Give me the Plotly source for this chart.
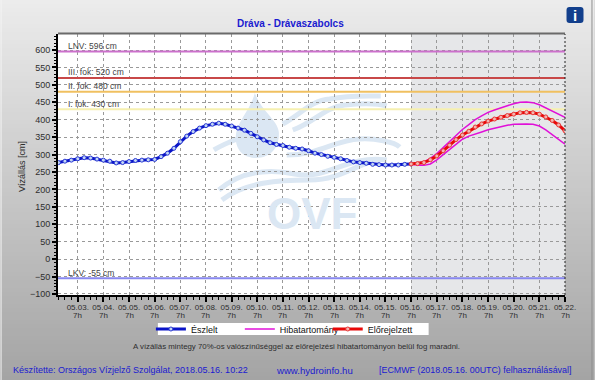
import plotly.graph_objects as go

W, H = 595, 380
L, R, T, B = 58, 565.5, 34, 295

tick_dates = ["05.%02d." % d for d in range(3, 23)]
tick_days = list(range(0, 20))
hour_label = "7h"

observed = [279, 277, 281, 284, 288, 291, 290, 287, 284, 281, 276, 277, 280, 283, 284,
            285, 286, 294, 304, 318, 337, 353, 366, 376, 383, 387, 390, 387, 382, 376,
            370, 361, 351, 342, 334, 329, 326, 321, 318, 316, 311, 304, 300, 295, 292,
            288, 283, 279, 277, 275, 272, 271, 270, 270, 270, 272, 273]
forecast = [273, 274, 277, 285, 296, 311, 327, 343, 356, 367, 379, 388, 396, 402, 407,
            412, 416, 420, 421, 420, 416, 408, 398, 385, 368]
upper = [273, 275, 279, 289, 303, 320, 338, 355, 372, 386, 400, 411, 421, 428, 435,
         440, 446, 450, 451, 449, 443, 434, 425, 416, 407]
lower = [273, 269, 269, 273, 285, 300, 315, 330, 344, 353, 360, 365, 371, 376, 380,
         384, 387, 388, 388, 387, 382, 371, 358, 345, 330]

thresholds = [("LNV: 596 cm", 596, "#cc70cc"), ("III. fok: 520 cm", 520, "#c84848"),
              ("II. fok: 480 cm", 480, "#f0c060"), ("I. fok: 430 cm", 430, "#f6f0b0"),
              ("LKV: -55 cm", -55, "#8888f0")]

X_MIN, X_MAX = -0.77, 19
Y_MIN, Y_MAX = -103, 646
x_obs = [13 - 0.25 * (len(observed) - 1 - i) for i in range(len(observed))]
x_fc = [13 + 0.25 * i for i in range(len(forecast))]

def px(x):
    return (x - L) / (R - L)
def py(y):
    return (B - y) / (B - T)
def path(points):
    s = "M%.4f,%.4f" % (px(points[0][0]), py(points[0][1]))
    for i in range(1, len(points) - 2, 3):
        s += " C" + " ".join("%.4f,%.4f" % (px(a), py(b)) for a, b in points[i:i + 3])
    return s

shapes = []
# window gradient
for y in range(0, H, 4):
    t = y / H
    c = int(236 - t * 72)
    shapes.append(dict(type="rect", xref="paper", yref="paper", x0=px(0), x1=px(W), y0=py(y + 4), y1=py(y),
                       fillcolor="rgb(%d,%d,%d)" % (c, c, c), line_width=0, layer="below"))
shapes.append(dict(type="rect", xref="paper", yref="paper", x0=px(L), x1=px(R), y0=py(B), y1=py(T),
                   fillcolor="white", line_width=0, layer="below"))
# window edges
shapes.append(dict(type="line", xref="paper", yref="paper", x0=px(592.5), x1=px(592.5), y0=py(H), y1=py(0),
                   line=dict(color="#8f8f8f", width=1), layer="below"))
shapes.append(dict(type="line", xref="paper", yref="paper", x0=px(1), x1=px(1), y0=py(H), y1=py(0),
                   line=dict(color="#f4f4f4", width=1), layer="below"))
# forecast zone
shapes.append(dict(type="rect", xref="x", yref="paper", x0=13, x1=19, y0=0, y1=1,
                   fillcolor="#e6e7e9", line_width=0, layer="below"))
# watermark
WM = "#dbe7f3"
drop = ("M%.4f,%.4f C%.4f,%.4f %.4f,%.4f %.4f,%.4f C%.4f,%.4f %.4f,%.4f %.4f,%.4f "
        "C%.4f,%.4f %.4f,%.4f %.4f,%.4f Z") % (
    px(255), py(93), px(250), py(112), px(236), py(122), px(236), py(138),
    px(236), py(152), px(246), py(158), px(256), py(158),
    px(272), py(158), px(280), py(146), px(279), py(132))
drop = drop.replace(" Z", " C%.4f,%.4f %.4f,%.4f %.4f,%.4f Z" % (px(278), py(120), px(262), py(112), px(255), py(93)))
shapes.append(dict(type="path", xref="paper", yref="paper", path=drop, fillcolor=WM, line_width=0, layer="below"))
waves = [
    [(283, 124), (300, 115), (312, 100), (330, 99), (350, 95), (365, 96), (381, 96)],
    [(293, 130), (315, 122), (325, 107), (345, 105), (365, 103), (380, 104), (387, 106)],
    [(214, 150), (222, 145), (232, 141), (240, 138), (245, 136), (250, 134), (255, 132)],
    [(287, 155), (320, 155), (335, 140), (360, 139), (375, 138), (395, 142), (400, 147)],
    [(219, 190), (240, 172), (265, 168), (295, 174), (330, 180), (345, 155), (387, 160)],
    [(222, 200), (245, 182), (280, 180), (310, 180), (340, 180), (355, 165), (372, 162)],
]
for w in waves:
    shapes.append(dict(type="path", xref="paper", yref="paper", path=path(w),
                       line=dict(color=WM, width=5), layer="below"))
# top border and dashed right border
shapes.append(dict(type="line", xref="paper", yref="paper", x0=px(L), x1=px(R), y0=py(33.5), y1=py(33.5),
                   line=dict(color="#6a6a6a", width=2), layer="above"))
shapes.append(dict(type="line", xref="paper", yref="paper", x0=1, x1=1, y0=0, y1=1,
                   line=dict(color="#222222", width=1, dash="2px,2px"), layer="above"))
# legend box
shapes.append(dict(type="rect", xref="paper", yref="paper", x0=px(158), x1=px(429), y0=py(335), y1=py(323),
                   fillcolor="white", line_width=0, layer="below"))
# info icon
shapes.append(dict(type="path", xref="paper", yref="paper", fillcolor="#123f8c", line_width=0, layer="above",
                   path="M%.4f,%.4f L%.4f,%.4f Q%.4f,%.4f %.4f,%.4f L%.4f,%.4f Q%.4f,%.4f %.4f,%.4f "
                        "L%.4f,%.4f Q%.4f,%.4f %.4f,%.4f L%.4f,%.4f Q%.4f,%.4f %.4f,%.4f Z" % (
                       px(570), py(7), px(581), py(7), px(584), py(7), px(584), py(10),
                       px(584), py(20), px(584), py(23), px(581), py(23),
                       px(570), py(23), px(567), py(23), px(567), py(20),
                       px(567), py(10), px(567), py(7), px(570), py(7))))

fig = go.Figure()
for name, val, col in thresholds:
    fig.add_trace(go.Scatter(x=[X_MIN, X_MAX], y=[val, val], mode="lines", line=dict(color=col, width=2),
                             showlegend=False, hoverinfo="skip"))
fig.add_trace(go.Scatter(x=x_obs, y=observed, mode="lines+markers", name="Észlelt", legend="legend",
                         line=dict(color="#0a14c8", width=3),
                         marker=dict(symbol="circle", size=4, color="#c3d6f5", line=dict(color="#2a3ad4", width=1))))
fig.add_trace(go.Scatter(x=x_fc, y=upper, mode="lines", name="Hibatartomány", legend="legend2",
                         line=dict(color="#e010d8", width=1.5)))
fig.add_trace(go.Scatter(x=x_fc, y=lower, mode="lines", showlegend=False,
                         line=dict(color="#e010d8", width=1.5)))
fig.add_trace(go.Scatter(x=x_fc, y=forecast, mode="lines+markers", name="Előrejelzett", legend="legend3",
                         line=dict(color="#e80808", width=3),
                         marker=dict(symbol="circle", size=4, color="#f4b4b0", line=dict(color="#e83838", width=1))))

FONT = "Liberation Sans"
TXT = "#2e2e2e"
BLUE = "#1a1ad0"
ann = []
for name, val, col in thresholds:
    ann.append(dict(x=-0.45, y=val, xref="x", yref="y", text=name, showarrow=False, xanchor="left",
                    yanchor="middle", yshift=5.5, font=dict(size=8.5, color="#444444")))
for d in tick_days:
    ann.append(dict(x=d, y=py(315.5), xref="x", yref="paper", text=hour_label, showarrow=False,
                    yanchor="middle", font=dict(size=8, color=TXT)))
def note(x, y, text, size=8, color=TXT, anchor="left", bold=False):
    ann.append(dict(x=px(x), y=py(y), xref="paper", yref="paper", text="<b>%s</b>" % text if bold else text,
                    showarrow=False, xanchor=anchor, yanchor="middle", font=dict(size=size, color=color)))
note(291, 23.3, "Dráva - Drávaszabolcs", 10, BLUE, "center", True)
note(575.5, 15, "i", 15, "white", "center", True)
note(296.5, 346, "A vízállás mintegy 70%-os valószínűséggel az előrejelzési hibatartományon belül fog maradni.", 7.85, TXT, "center")
note(11, 370, "Készítette: Országos Vízjelző Szolgálat, 2018.05.16. 10:22", 9, BLUE)
note(274, 370, "www.hydroinfo.hu", 9.6, BLUE)
note(377, 370, "[ECMWF (2018.05.16. 00UTC) felhasználásával]", 8.9, BLUE)
note(312, 213, "<b>OVF</b>", 44, WM, "center")
ann.append(dict(x=px(22), y=py(167), xref="paper", yref="paper", text="Vízállás [cm]", textangle=-90,
                showarrow=False, xanchor="center", yanchor="middle", font=dict(size=9, color=TXT)))

def legend_at(x):
    return dict(orientation="h", x=px(x), y=py(329), xanchor="left", yanchor="middle",
                bgcolor="rgba(0,0,0,0)", font=dict(size=9, color="#111111"), itemclick=False)

GRID = "#999999"
fig.update_layout(
    width=W, height=H, margin=dict(l=L, r=W - R, t=T, b=H - B, pad=0),
    paper_bgcolor="#d0d0d0", plot_bgcolor="rgba(0,0,0,0)",
    font=dict(family=FONT, color=TXT), shapes=shapes, annotations=ann,
    legend=legend_at(151), legend2=legend_at(240), legend3=legend_at(328),
    xaxis=dict(range=[X_MIN, X_MAX], tickmode="array", tickvals=tick_days, ticktext=tick_dates,
               showgrid=True, gridcolor=GRID, griddash="3px,3px", gridwidth=1, zeroline=False,
               ticks="outside", ticklen=5, tickwidth=2, tickcolor="#000000", tickangle=0,
               ticklabelstandoff=-2,
               showline=True, linecolor="#000000", linewidth=2,
               tickfont=dict(size=8, color=TXT),
               minor=dict(dtick=0.25, tick0=0, ticks="outside", ticklen=3, tickwidth=1, tickcolor="#000000", showgrid=False)),
    yaxis=dict(range=[Y_MIN, Y_MAX], tick0=0, dtick=50,
               showgrid=True, gridcolor=GRID, griddash="3px,3px", gridwidth=1, zeroline=False,
               ticks="outside", ticklen=4, tickwidth=2, tickcolor="#000000",
               showline=True, linecolor="#000000", linewidth=2,
               tickfont=dict(size=9, color=TXT),
               minor=dict(dtick=10, tick0=0, ticks="outside", ticklen=2, tickwidth=1, tickcolor="#000000", showgrid=False)),
)
fig.write_html("out.html", config=dict(displayModeBar=False),
               post_script="document.body.style.margin='0';document.body.style.overflow='hidden';")
